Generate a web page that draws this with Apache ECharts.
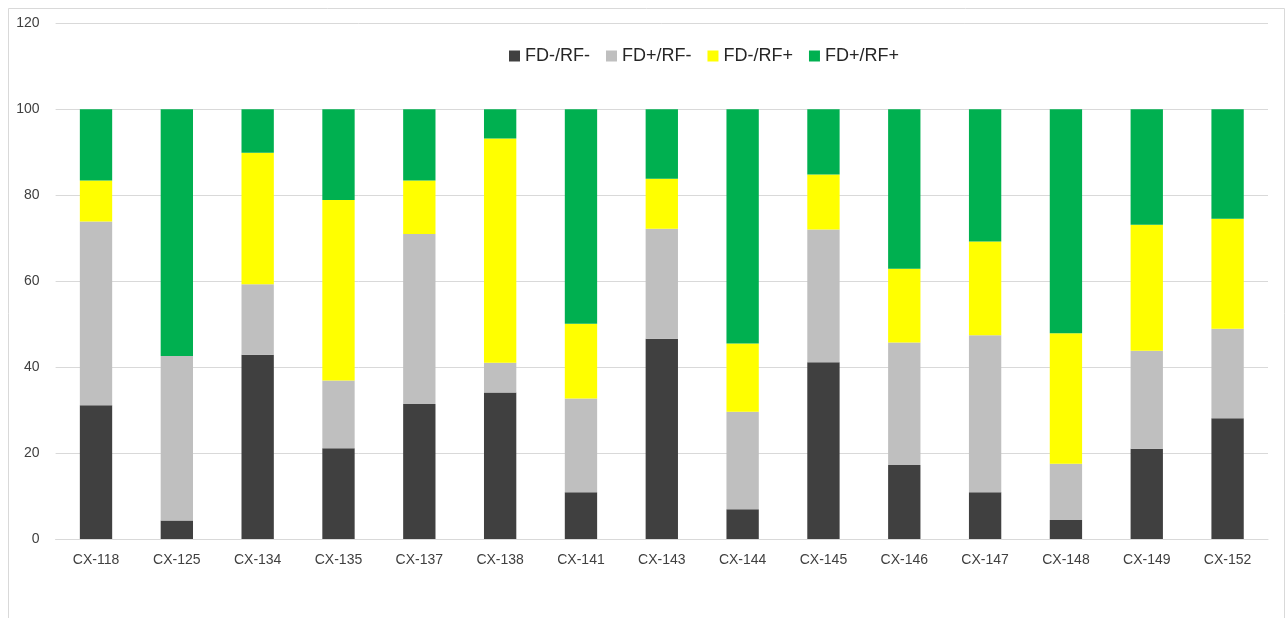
<!DOCTYPE html>
<html>
<head>
<meta charset="utf-8">
<script src="https://cdn.jsdelivr.net/npm/echarts@6/dist/echarts.min.js"></script>
<style>
  html, body { margin: 0; padding: 0; background: #ffffff; }
  #chart { width: 1287px; height: 618px; }
</style>
</head>
<body>
<div id="chart"></div>
<script>
// Samples on the x axis
const categories = ['CX-118', 'CX-125', 'CX-134', 'CX-135', 'CX-137', 'CX-138', 'CX-141', 'CX-143',
                    'CX-144', 'CX-145', 'CX-146', 'CX-147', 'CX-148', 'CX-149', 'CX-152'];

// Percentage share of each group per sample (stacked to 100)
const fdNegRfNeg = [31.1, 4.3, 42.9, 21.1, 31.4, 34.1, 10.9, 46.6, 6.9, 41.1, 17.2, 10.9, 4.4, 21.0, 28.1];
const fdPosRfNeg = [42.8, 38.3, 16.4, 15.8, 39.6, 6.9, 21.8, 25.6, 22.7, 30.9, 28.5, 36.5, 13.1, 22.8, 20.8];
const fdNegRfPos = [9.5, 0, 30.6, 42.0, 12.4, 52.2, 17.4, 11.6, 15.9, 12.8, 17.2, 21.8, 30.4, 29.3, 25.6];
const fdPosRfPos = [16.6, 57.4, 10.1, 21.1, 16.6, 6.8, 49.9, 16.2, 54.5, 15.2, 37.1, 30.8, 52.1, 26.9, 25.5];

const seriesNames = ['FD-/RF-', 'FD+/RF-', 'FD-/RF+', 'FD+/RF+'];
const seriesColors = ['#404040', '#bfbfbf', '#ffff00', '#00b050'];
const seriesValues = [fdNegRfNeg, fdPosRfNeg, fdNegRfPos, fdPosRfPos];

// Y axis ticks
const yMin = 0, yMax = 120, yStep = 20;

const FONT = '"Liberation Sans", Arial, sans-serif';
const TEXT = '#404040';

const chart = echarts.init(document.getElementById('chart'), null, { renderer: 'canvas' });

chart.setOption({
  backgroundColor: '#ffffff',
  animation: false,
  graphic: [{
    type: 'rect',
    left: 6, top: 6,
    shape: { width: 1276, height: 640 },
    style: { fill: 'none', stroke: '#d9d9d9', lineWidth: 1 },
    silent: true
  }],
  legend: {
    left: 504,
    top: 42,
    itemWidth: 11,
    itemHeight: 11,
    itemGap: 16,
    icon: 'rect',
    textStyle: { fontFamily: FONT, fontSize: 18, color: '#262626' },
    data: seriesNames
  },
  grid: { left: 55.6, right: 19, top: 23.3, bottom: 79, containLabel: false },
  xAxis: {
    type: 'category',
    data: categories,
    axisLine: { show: true, lineStyle: { color: '#d9d9d9', width: 1 } },
    axisTick: { show: false },
    axisLabel: { fontFamily: FONT, fontSize: 14, color: TEXT, margin: 14 }
  },
  yAxis: {
    type: 'value',
    min: yMin, max: yMax, interval: yStep,
    axisLine: { show: false },
    axisTick: { show: false },
    axisLabel: { fontFamily: FONT, fontSize: 14, color: TEXT, margin: 16 },
    splitLine: { lineStyle: { color: '#d9d9d9', width: 1 } }
  },
  series: seriesNames.map((name, i) => ({
    name: name,
    type: 'bar',
    stack: 'total',
    barWidth: '40%',
    itemStyle: { color: seriesColors[i] },
    data: seriesValues[i]
  }))
});
</script>
</body>
</html>
